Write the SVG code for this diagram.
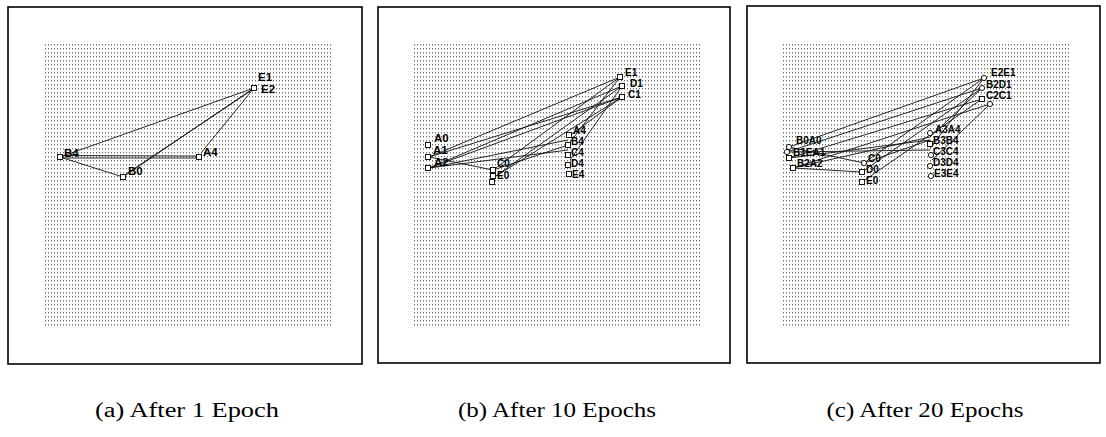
<svg xmlns="http://www.w3.org/2000/svg" width="1106" height="437" viewBox="0 0 1106 437">
  <defs>
    <!-- dotted background lattice of each plot -->
    <pattern id="dots" x="0" y="0" width="3" height="4" patternUnits="userSpaceOnUse">
      <rect x="0" y="0" width="1" height="1.4" fill="#6a6a6a"/>
    </pattern>
    <symbol id="sq" overflow="visible">
      <rect x="-2.5" y="-2.5" width="5" height="5" fill="#fff" stroke="#000" stroke-width="0.9"/>
    </symbol>
    <symbol id="ci" overflow="visible">
      <circle cx="0" cy="0" r="2.6" fill="#fff" stroke="#000" stroke-width="0.9"/>
    </symbol>
  </defs>
  <style>
    .frame { fill: #fff; stroke: #000; stroke-width: 1.6; }
    .grid { fill: url(#dots); }
    .edges line { stroke: #111; stroke-width: 0.9; }
    .lbl { font-family: "Liberation Sans", Arial, sans-serif; font-size: 10px; font-weight: bold; fill: #000; }
    .big { font-size: 11.5px; }
    .cap { font-family: "Liberation Serif", "Times New Roman", serif; font-size: 20px; fill: #000; }
  </style>

  <!-- ========== panel (a) ========== -->
  <g id="panel-a">
    <rect class="frame" x="8" y="7" width="354" height="357"/>
    <rect class="grid" x="45" y="42" width="288" height="285"/>
  </g>
  <g id="edges-a" class="edges">
    <line x1="60" y1="157" x2="254" y2="88"/>
    <line x1="62" y1="155.5" x2="199" y2="156"/>
    <line x1="62" y1="158" x2="199" y2="158"/>
    <line x1="60" y1="157" x2="123" y2="177"/>
    <line x1="123" y1="177" x2="254" y2="88"/>
    <line x1="126" y1="174" x2="252" y2="90"/>
    <line x1="201" y1="153" x2="254" y2="88"/>
  </g>
  <g id="a-B4"><use href="#sq" x="60" y="157"/><text class="lbl big" x="64" y="157">B4</text></g>
  <g id="a-B0"><use href="#sq" x="123" y="177"/><text class="lbl big" x="128" y="175">B0</text></g>
  <g id="a-A4"><use href="#sq" x="199" y="157"/><text class="lbl big" x="203" y="156">A4</text></g>
  <g id="a-E"><use href="#sq" x="254" y="88"/><text class="lbl big" x="258" y="81">E1</text><text class="lbl big" x="261" y="93">E2</text></g>

  <!-- ========== panel (b) ========== -->
  <g id="panel-b">
    <rect class="frame" x="378" y="7" width="352" height="356"/>
    <rect class="grid" x="413" y="42" width="288" height="285"/>
  </g>
  <g id="edges-b" class="edges">
    <line x1="429" y1="157" x2="620" y2="77"/>
    <line x1="429" y1="168" x2="622" y2="86"/>
    <line x1="429" y1="168" x2="622" y2="97"/>
    <line x1="429" y1="157" x2="622" y2="97"/>
    <line x1="429" y1="157" x2="493" y2="170"/>
    <line x1="429" y1="168" x2="568" y2="140"/>
    <line x1="429" y1="168" x2="568" y2="150"/>
    <line x1="493" y1="170" x2="620" y2="77"/>
    <line x1="493" y1="178" x2="622" y2="86"/>
    <line x1="493" y1="178" x2="622" y2="97"/>
    <line x1="568" y1="137" x2="622" y2="97"/>
    <line x1="568" y1="145" x2="620" y2="77"/>
    <line x1="570" y1="160" x2="622" y2="86"/>
    <line x1="493" y1="170" x2="568" y2="145"/>
  </g>
  <g id="b-A0"><use href="#sq" x="428" y="145"/><text class="lbl big" x="434" y="142">A0</text></g>
  <g id="b-A1"><use href="#sq" x="428" y="157"/><text class="lbl big" x="433" y="154">A1</text></g>
  <g id="b-A2"><use href="#sq" x="428" y="168"/><text class="lbl big" x="434" y="166">A2</text></g>
  <g id="b-C0"><use href="#sq" x="493" y="170"/><text class="lbl" x="497" y="167">C0</text></g>
  <g id="b-D0"><use href="#sq" x="493" y="176"/></g>
  <g id="b-E0"><use href="#sq" x="492" y="182"/><text class="lbl" x="497" y="179">E0</text></g>
  <g id="b-A4"><use href="#sq" x="569" y="135"/><text class="lbl" x="573" y="134">A4</text></g>
  <g id="b-B4"><use href="#sq" x="568" y="145"/><text class="lbl" x="571" y="145">B4</text></g>
  <g id="b-C4"><use href="#sq" x="568" y="155"/><text class="lbl" x="571" y="156">C4</text></g>
  <g id="b-D4"><use href="#sq" x="568" y="165"/><text class="lbl" x="571" y="167">D4</text></g>
  <g id="b-E4"><use href="#sq" x="569" y="174"/><text class="lbl" x="572" y="178">E4</text></g>
  <g id="b-E1"><use href="#sq" x="620" y="77"/><text class="lbl" x="625" y="76">E1</text></g>
  <g id="b-D1"><use href="#sq" x="622" y="86"/><text class="lbl" x="630" y="87" font-weight="normal" font-size="11">D1</text></g>
  <g id="b-C1"><use href="#sq" x="622" y="97"/><text class="lbl" x="628" y="98">C1</text></g>

  <!-- ========== panel (c) ========== -->
  <g id="panel-c">
    <rect class="frame" x="747" y="6" width="353" height="357"/>
    <rect class="grid" x="782" y="42" width="289" height="285"/>
  </g>
  <g id="edges-c" class="edges">
    <line x1="789" y1="147" x2="984" y2="78"/>
    <line x1="787" y1="152" x2="982" y2="88"/>
    <line x1="789" y1="158" x2="982" y2="99"/>
    <line x1="793" y1="168" x2="990" y2="104"/>
    <line x1="789" y1="158" x2="930" y2="140"/>
    <line x1="789" y1="152" x2="930" y2="150"/>
    <line x1="793" y1="168" x2="930" y2="137"/>
    <line x1="789" y1="147" x2="864" y2="163"/>
    <line x1="793" y1="168" x2="862" y2="172"/>
    <line x1="864" y1="163" x2="984" y2="78"/>
    <line x1="862" y1="172" x2="982" y2="88"/>
    <line x1="862" y1="182" x2="982" y2="99"/>
    <line x1="930" y1="137" x2="982" y2="88"/>
    <line x1="930" y1="148" x2="984" y2="78"/>
    <line x1="932" y1="160" x2="990" y2="104"/>
    <line x1="864" y1="163" x2="930" y2="140"/>
  </g>
  <g id="c-A0"><use href="#ci" x="789" y="147"/><text class="lbl" x="796" y="144" font-weight="normal" font-size="11">B0A0</text></g>
  <g id="c-A1"><use href="#ci" x="787" y="152"/><use href="#sq" x="789" y="158"/><text class="lbl" x="793" y="156">B1EA1</text></g>
  <g id="c-A2"><use href="#sq" x="793" y="168"/><text class="lbl" x="797" y="167">B2A2</text></g>
  <g id="c-C0"><use href="#ci" x="864" y="163"/><text class="lbl" x="868" y="162">C0</text></g>
  <g id="c-D0"><use href="#sq" x="862" y="172"/><text class="lbl" x="866" y="173">D0</text></g>
  <g id="c-E0"><use href="#sq" x="862" y="182"/><text class="lbl" x="866" y="184">E0</text></g>
  <g id="c-A4"><use href="#ci" x="930" y="133"/><text class="lbl" x="935" y="133">A3A4</text></g>
  <g id="c-B4"><use href="#sq" x="930" y="144"/><text class="lbl" x="933" y="144">B3B4</text></g>
  <g id="c-C4"><use href="#ci" x="931" y="155"/><text class="lbl" x="933" y="155">C3C4</text></g>
  <g id="c-D4"><use href="#ci" x="930" y="166"/><text class="lbl" x="933" y="166">D3D4</text></g>
  <g id="c-E4"><use href="#ci" x="931" y="176"/><text class="lbl" x="934" y="177">E3E4</text></g>
  <g id="c-E1"><use href="#ci" x="984" y="78"/><text class="lbl" x="991" y="76" font-weight="normal" font-size="11">E2E1</text></g>
  <g id="c-D1"><use href="#ci" x="982" y="88"/><text class="lbl" x="986" y="88">B2D1</text></g>
  <g id="c-C1"><use href="#sq" x="982" y="99"/><use href="#ci" x="990" y="104"/><text class="lbl" x="986" y="99">C2C1</text></g>

  <!-- captions -->
  <g id="captions">
    <text class="cap" x="187" y="417" text-anchor="middle" textLength="184" lengthAdjust="spacingAndGlyphs">(a) After 1 Epoch</text>
    <text class="cap" x="557" y="417" text-anchor="middle" textLength="198" lengthAdjust="spacingAndGlyphs">(b) After 10 Epochs</text>
    <text class="cap" x="925" y="417" text-anchor="middle" textLength="197" lengthAdjust="spacingAndGlyphs">(c) After 20 Epochs</text>
  </g>
</svg>
